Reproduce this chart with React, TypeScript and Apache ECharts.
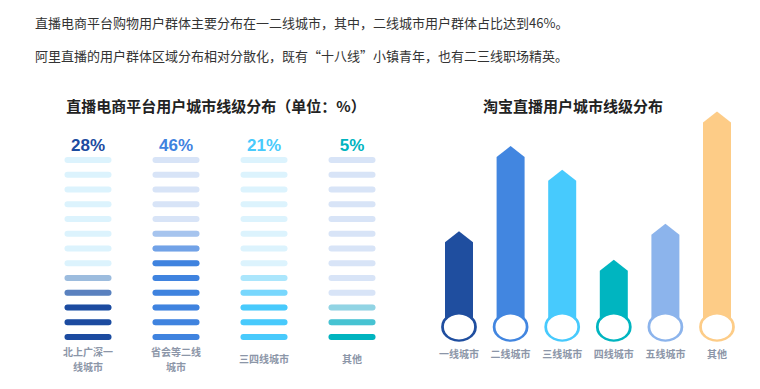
import React, { useEffect, useRef } from "react";
import * as echarts from "echarts";

// ---- Data ----
const introLines = [
  "直播电商平台购物用户群体主要分布在一二线城市，其中，二线城市用户群体占比达到46%。",
  "阿里直播的用户群体区域分布相对分散化，既有“十八线”小镇青年，也有二三线职场精英。",
];

const leftTitle = "直播电商平台用户城市线级分布（单位：%）";
const leftCategories = ["北上广深一\n线城市", "省会等二线\n城市", "三四线城市", "其他"];
const leftValues = [28, 46, 21, 5];

const rightTitle = "淘宝直播用户城市线级分布";
const rightCategories = ["一线城市", "二线城市", "三线城市", "四线城市", "五线城市", "其他"];
const rightValues = [11.7, 22.1, 19.2, 8.2, 12.6, 26.3];

// ---- Styles ----
const FONT = '"Noto Sans CJK SC", "Noto Sans", sans-serif';
const leftFull = ["#1c4ba0", "#3f83df", "#48cafc", "#00b4bf"];
const leftBg = ["#dcf3fd", "#d8e4f7", "#dcf3fd", "#d8e4f7"];
const rightColors = ["#1f4e9f", "#4286e0", "#47cafd", "#00b5c0", "#8cb4ec", "#fdcc87"];
const ROWS = 13;
const CELLS_FOR_100 = 12;
const LABEL_COLOR = "#8c96a8";

export default function App() {
  const ref = useRef<HTMLDivElement>(null);

  useEffect(() => {
    if (!ref.current) return;
    const chart = echarts.init(ref.current, null, { renderer: "svg" });

    const rows = Array.from({ length: ROWS }, (_, i) => i);

    const option: any = {
      animation: false,
      backgroundColor: "#ffffff",
      graphic: [
        ...introLines.map((t, i) => ({
          type: "text",
          x: 35,
          y: i === 0 ? 22 : 55,
          style: {
            text: t,
            fontSize: 13,
            fontFamily: FONT,
            fill: "#333333",
            verticalAlign: "middle",
          },
        })),
        {
          type: "text",
          x: 216,
          y: 105,
          style: {
            text: leftTitle,
            fontSize: 15,
            fontWeight: "bold",
            fontFamily: FONT,
            fill: "#222222",
            align: "center",
            verticalAlign: "middle",
          },
        },
        {
          type: "text",
          x: 573,
          y: 105,
          style: {
            text: rightTitle,
            fontSize: 15,
            fontWeight: "bold",
            fontFamily: FONT,
            fill: "#222222",
            align: "center",
            verticalAlign: "middle",
          },
        },
      ],
      grid: [
        { left: 44, width: 352, top: 152.6, height: 191.75 },
        { left: 433.2, width: 309.6, top: 81.3, bottom: 62 },
      ],
      xAxis: [
        {
          type: "category",
          gridIndex: 0,
          data: leftCategories,
          axisLine: { show: false },
          axisTick: { show: false },
          axisLabel: { show: false },
        },
        {
          type: "category",
          gridIndex: 1,
          data: rightCategories,
          axisLine: { show: false },
          axisTick: { show: false },
          axisLabel: {
            interval: 0,
            margin: 26,
            verticalAlign: "middle",
            fontSize: 10,
            fontWeight: "bold",
            fontFamily: FONT,
            color: LABEL_COLOR,
          },
        },
      ],
      yAxis: [
        {
          type: "value",
          gridIndex: 0,
          min: -0.5,
          max: ROWS - 0.5,
          show: false,
          splitLine: { show: false },
        },
        {
          type: "value",
          gridIndex: 1,
          min: 0,
          max: 30,
          show: false,
          splitLine: { show: false },
        },
      ],
      series: [
        {
          type: "custom",
          xAxisIndex: 0,
          yAxisIndex: 0,
          encode: { x: 0 },
          data: leftValues.map((v, i) => [i, v]),
          renderItem: (params: any, api: any) => {
            const col = api.value(0);
            const v = api.value(1);
            const full = Math.round((v / 100) * CELLS_FOR_100);
            const children: any[] = [];
            const w = 47;
            const h = 6;
            rows.forEach((r) => {
              const c = api.coord([col, r]);
              children.push({
                type: "rect",
                shape: { x: c[0] - w / 2, y: c[1] - h / 2, width: w, height: h, r: h / 2 },
                style: { fill: leftBg[col] },
              });
              let op = 0;
              if (r < full) op = 1;
              else if (r === full) op = 0.68;
              else if (r === full + 1) op = 0.33;
              if (op > 0) {
                children.push({
                  type: "rect",
                  shape: { x: c[0] - w / 2, y: c[1] - h / 2, width: w, height: h, r: h / 2 },
                  style: { fill: leftFull[col], opacity: op },
                });
              }
            });
            const lc = api.coord([col, ROWS]);
            children.push({
              type: "text",
              x: lc[0],
              y: lc[1],
              style: {
                text: v + "%",
                fontSize: 17,
                fontWeight: 900,
                fontFamily: '"Liberation Sans Narrow", "Liberation Sans", Arial, sans-serif',
                fill: leftFull[col],
                align: "center",
                verticalAlign: "middle",
              },
            });
            // category label lines (below the pills)
            const bottom = api.coord([col, -0.5]);
            const centerY = bottom[1] + 14.5;
            const lines = String(leftCategories[col]).split("\n");
            const lh = 15;
            lines.forEach((ln, k) => {
              children.push({
                type: "text",
                x: bottom[0],
                y: centerY + (k - (lines.length - 1) / 2) * lh,
                style: {
                  text: ln,
                  fontSize: 10,
                  fontWeight: "bold",
                  fontFamily: FONT,
                  fill: LABEL_COLOR,
                  align: "center",
                  verticalAlign: "middle",
                },
              });
            });
            return { type: "group", children };
          },
        },
        {
          type: "custom",
          xAxisIndex: 1,
          yAxisIndex: 1,
          data: rightValues.map((v, i) => [i, v]),
          z: 2,
          renderItem: (params: any, api: any) => {
            const idx = api.value(0);
            const v = api.value(1);
            const top = api.coord([idx, v]);
            const base = api.coord([idx, 0]);
            const w = 28;
            const tip = 11;
            const x0 = top[0] - w / 2;
            const x1 = top[0] + w / 2;
            return {
              type: "polygon",
              shape: {
                points: [
                  [x0, base[1]],
                  [x0, top[1] + tip],
                  [top[0], top[1]],
                  [x1, top[1] + tip],
                  [x1, base[1]],
                ],
              },
              style: { fill: rightColors[idx] },
            };
          },
        },
        {
          type: "scatter",
          xAxisIndex: 1,
          yAxisIndex: 1,
          z: 5,
          symbol: "circle",
          symbolSize: [33, 27],
          data: rightValues.map((_, i) => ({
            value: [i, 0],
            itemStyle: {
              color: "#ffffff",
              borderColor: rightColors[i],
              borderWidth: 2.5,
              opacity: 1,
            },
          })),
        },
      ],
    };

    chart.setOption(option);
    return () => chart.dispose();
  }, []);

  return (
    <div
      ref={ref}
      style={{ position: "fixed", left: 0, top: 0, width: 760, height: 389, background: "#fff" }}
    />
  );
}
